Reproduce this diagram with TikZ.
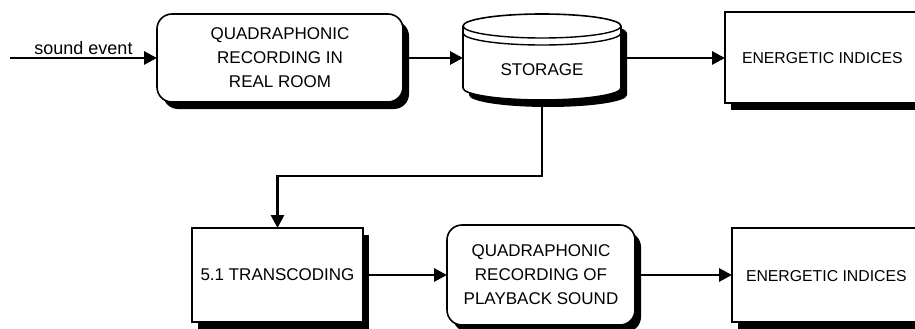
\documentclass[tikz,border=0pt]{standalone}
\usepackage{fontspec}
\setmainfont{Liberation Sans}
\newcommand*{\chartfont}{\fontsize{17}{24}\selectfont}
\newcommand*{\indexfont}{\fontsize{15.8}{20}\selectfont}
\usepackage{tikz}
\usetikzlibrary{arrows.meta}
\usetikzlibrary{shadows}
\tikzstyle{chart}=[x=1pt, y=-1pt, inner sep=0pt, outer sep=0pt, font=\chartfont]
\tikzstyle{heavyshadow}=[drop shadow={shadow xshift=6pt, shadow yshift=-7pt, fill=black, opacity=1}]
\tikzstyle{blockbox}=[draw=black, line width=1.6pt, fill=white, heavyshadow]
\tikzstyle{roundbox}=[blockbox, rounded corners=15pt, align=center]
\tikzstyle{flow}=[line width=2.9pt, -{Triangle[length=13pt, width=13pt]}]

\begin{document}
\begin{tikzpicture}[chart]
    \useasboundingbox (0,0) rectangle (915,329);
    \clip (0,0) rectangle (915,329);

    % top row
    \node [roundbox, minimum width=246pt, minimum height=88pt] (realrec) at (280,58) {QUADRAPHONIC\\RECORDING IN\\REAL ROOM};

    % storage drum
    \fill [xshift=6pt, yshift=-7pt] (463,26) -- (463,88) arc[start angle=180, end angle=0, x radius=79, y radius=12]
        -- (621,26) arc[start angle=0, end angle=-180, x radius=79, y radius=12] -- cycle;
    \draw [line width=1.6pt, fill=white] (463,26) -- (463,88) arc[start angle=180, end angle=0, x radius=79, y radius=12]
        -- (621,26) arc[start angle=0, end angle=-180, x radius=79, y radius=12] -- cycle;
    \draw [line width=1.4pt] (463,26) arc[start angle=180, end angle=0, x radius=79, y radius=12];
    \draw [line width=1.4pt] (463,33) arc[start angle=180, end angle=0, x radius=79, y radius=12];
    \node [minimum width=158pt, minimum height=96pt] (store) at (542,58) {};
    \node (storetext) at (542,70) {STORAGE};

    \node [blockbox, anchor=north west, minimum width=200pt, minimum height=91pt] (idx1) at (725,12) {};
    \node [anchor=west, font=\indexfont] (idx1text) at (742,58) {ENERGETIC INDICES};

    % bottom row
    \node [blockbox, minimum width=171pt, minimum height=94pt] (trans) at (277.5,275) {5.1 TRANSCODING};
    \node [roundbox, minimum width=188pt, minimum height=100pt] (playrec) at (541,275) {QUADRAPHONIC\\RECORDING OF\\PLAYBACK SOUND};
    \node [blockbox, anchor=north west, minimum width=200pt, minimum height=94pt] (idx2) at (732,228) {};
    \node [anchor=west, font=\indexfont] (idx2text) at (746,276) {ENERGETIC INDICES};

    % connections
    \coordinate (src) at (10,58);
    \draw [flow] (src) -- node [above=3pt, font=\fontsize{18}{20}\selectfont] (evtlabel) {sound event} (src -| realrec.west);
    \draw [flow] (realrec.east) -- (store.west);
    \draw [flow] (store.east) -- (store.east -| idx1.west);
    \draw [flow] (store.south) -- ++(0,70) -| (trans.north);
    \draw [flow] (trans.east) -- (trans.east -| playrec.west);
    \draw [flow] (playrec.east) -- (playrec.east -| idx2.west);
\end{tikzpicture}
\end{document}
